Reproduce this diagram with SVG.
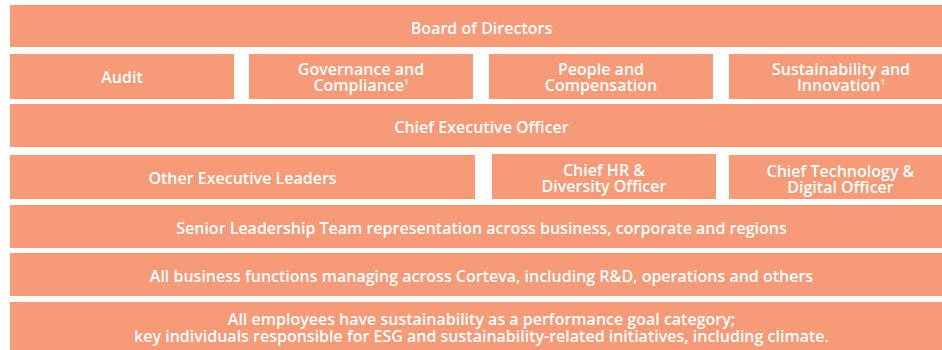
<svg xmlns="http://www.w3.org/2000/svg" width="942" height="350" viewBox="0 0 942 350">
  <style>
    .box { fill: #F79A77; }
    .t { fill: #FFFFFF; font-family: "Open Sans", "Liberation Sans", sans-serif; font-weight: 600; font-size: 16px; text-anchor: middle; }
    .sup { font-size: 8px; }
  </style>
  <rect width="942" height="350" fill="#FFFFFF"/>

  <g id="board">
    <rect class="box" x="10" y="5" width="943" height="42"/>
    <text class="t" x="481.5" y="34">Board of Directors</text>
  </g>

  <!-- board committees -->
  <g id="audit">
    <rect class="box" x="10" y="54" width="224" height="45"/>
    <text class="t" x="122" y="83">Audit</text>
  </g>
  <g id="governance">
    <rect class="box" x="249" y="54" width="224" height="45"/>
    <text class="t" y="74.5"><tspan x="361">Governance and</tspan><tspan x="361" dy="16.5">Compliance<tspan class="sup" dy="-6">1</tspan></tspan></text>
  </g>
  <g id="people">
    <rect class="box" x="489" y="54" width="224" height="45"/>
    <text class="t" y="74.5"><tspan x="601">People and</tspan><tspan x="601" dy="16.5">Compensation</tspan></text>
  </g>
  <g id="sustainability">
    <rect class="box" x="729" y="54" width="224" height="45"/>
    <text class="t" y="74.5"><tspan x="841">Sustainability and</tspan><tspan x="841" dy="16.5">Innovation<tspan class="sup" dy="-6">1</tspan></tspan></text>
  </g>

  <g id="ceo">
    <rect class="box" x="10" y="104" width="943" height="43"/>
    <text class="t" x="481.5" y="133">Chief Executive Officer</text>
  </g>

  <!-- executive leadership -->
  <g id="other-leaders">
    <rect class="box" x="10" y="155" width="465" height="44"/>
    <text class="t" x="242.5" y="184">Other Executive Leaders</text>
  </g>
  <g id="chief-hr">
    <rect class="box" x="492" y="154" width="224" height="45"/>
    <text class="t" y="175.5"><tspan x="604">Chief HR &amp;</tspan><tspan x="604" dy="16.5">Diversity Officer</tspan></text>
  </g>
  <g id="chief-tech">
    <rect class="box" x="729" y="155" width="224" height="44"/>
    <text class="t" y="176.5"><tspan x="840.5">Chief Technology &amp;</tspan><tspan x="840.5" dy="16.5">Digital Officer</tspan></text>
  </g>

  <g id="slt">
    <rect class="box" x="10" y="205" width="943" height="43"/>
    <text class="t" x="481.5" y="234">Senior Leadership Team representation across business, corporate and regions</text>
  </g>

  <g id="functions">
    <rect class="box" x="10" y="253" width="943" height="43"/>
    <text class="t" x="481.5" y="282">All business functions managing across Corteva, including R&amp;D, operations and others</text>
  </g>

  <g id="employees">
    <rect class="box" x="10" y="302" width="943" height="60"/>
    <text class="t" y="324.5"><tspan x="481.5">All employees have sustainability as a performance goal category;</tspan><tspan x="481.5" dy="17.5">key individuals responsible for ESG and sustainability-related initiatives, including climate.</tspan></text>
  </g>

  <g id="connectors"></g>
</svg>
